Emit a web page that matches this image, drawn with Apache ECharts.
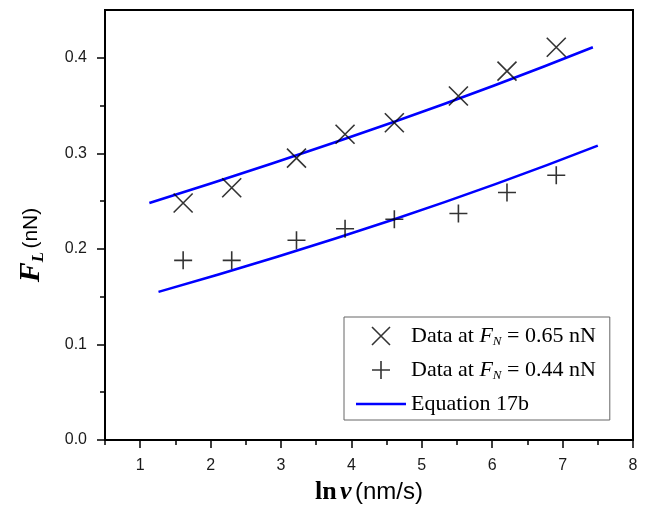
<!DOCTYPE html>
<html>
<head>
<meta charset="utf-8">
<script src="https://cdn.jsdelivr.net/npm/echarts@6/dist/echarts.min.js"></script>
<style>
  html, body { margin: 0; padding: 0; background: #fff; }
  #chart { width: 647px; height: 511px; }
</style>
</head>
<body>
<div id="chart"></div>
<script>
// ln v values of the measurements
let lnV = [1.61, 2.30, 3.22, 3.91, 4.61, 5.52, 6.21, 6.91];
// F_L at F_N = 0.65 nN and 0.44 nN
let fl065 = [0.248, 0.264, 0.295, 0.320, 0.332, 0.360, 0.386, 0.411];
let fl044 = [0.188, 0.188, 0.209, 0.221, 0.231, 0.237, 0.259, 0.277];
// Equation 17b curves
let eqUpperX = [1.13, 4.61, 7.43];
let eqUpperY = [0.248, 0.333, 0.411];
let eqLowerX = [1.26, 4.61, 7.50];
let eqLowerY = [0.155, 0.231, 0.308];
// tick positions / labels
let xTicks = [1, 2, 3, 4, 5, 6, 7, 8];
let xMinor = [0.5, 1.5, 2.5, 3.5, 4.5, 5.5, 6.5, 7.5];
let yTicks = [0, 0.1, 0.2, 0.3, 0.4];
let yMinor = [0.05, 0.15, 0.25, 0.35];

let nameA = 'Data at FN = 0.65 nN';
let nameB = 'Data at FN = 0.44 nN';
let nameEq = 'Equation 17b';

function pairs(xs, ys) {
    return xs.map(function (x, i) { return [x, ys[i]]; });
}

let crossPath = 'path://M0,0L20,20M20,0L0,20';
let plusPath = 'path://M10,0L10,20M0,10L20,10';
// thin bar used as the legend icon of the blue line
let lineIcon = 'path://M0,0L50,0L50,2.5L0,2.5Z';

let myChart = echarts.init(document.getElementById('chart'));
let tickFont = { fontFamily: 'Liberation Sans', fontSize: 16, color: '#1a1a1a' };
let tickLine = { color: '#000', width: 1.5 };

let option = {
    animation: false,
    backgroundColor: '#fff',
    grid: {
        left: 105, right: 14, top: 10, bottom: 71,
        show: true, borderColor: '#000', borderWidth: 2,
        outerBoundsMode: 'none'
    },
    legend: {
        orient: 'vertical',
        left: 344, top: 317,
        padding: [7, 14, 4, 12],
        itemGap: 10,
        itemWidth: 50,
        itemHeight: 18,
        itemStyle: { borderWidth: 1.6 },
        borderColor: '#666',
        borderWidth: 1,
        backgroundColor: '#fff',
        symbolKeepAspect: true,
        data: [nameA, nameB, {
            name: nameEq, icon: lineIcon,
            itemStyle: { color: '#0000ff', borderWidth: 0 }
        }],
        formatter: function (name) {
            if (name.indexOf('FN') >= 0) {
                return name.replace('FN', '{i|F}{s|N}');
            }
            return name;
        },
        textStyle: {
            fontFamily: 'Liberation Serif', fontSize: 22, color: '#000', lineHeight: 24,
            rich: {
                i: { fontFamily: 'Liberation Serif', fontSize: 22, fontStyle: 'italic', lineHeight: 24 },
                s: { fontFamily: 'Liberation Serif', fontSize: 13, fontStyle: 'italic', lineHeight: 12, verticalAlign: 'bottom' }
            }
        }
    },
    xAxis: [{
        // minor ticks
        type: 'value', min: 0.5, max: 8, position: 'bottom',
        axisLine: { show: false },
        axisTick: { customValues: xMinor, length: 5, lineStyle: tickLine },
        axisLabel: { show: false },
        splitLine: { show: false }
    }, {
        type: 'value', min: 0.5, max: 8, position: 'bottom',
        axisLine: { lineStyle: { color: '#000', width: 2 } },
        axisTick: { customValues: xTicks, length: 8, lineStyle: tickLine },
        axisLabel: Object.assign({ customValues: xTicks, margin: 18 }, tickFont),
        splitLine: { show: false },
        name: '{b|ln} {bi|v} {n|(nm/s)}',
        nameLocation: 'middle',
        nameGap: 36,
        nameTextStyle: {
            rich: {
                b: { fontFamily: 'Liberation Serif', fontWeight: 'bold', fontSize: 26, color: '#000' },
                bi: { fontFamily: 'Liberation Serif', fontWeight: 'bold', fontStyle: 'italic', fontSize: 26, color: '#000' },
                n: { fontFamily: 'Liberation Sans', fontSize: 24, color: '#000' }
            }
        }
    }],
    yAxis: [{
        type: 'value', min: 0, max: 0.45, position: 'left',
        axisLine: { show: false },
        axisTick: { customValues: yMinor, length: 5, lineStyle: tickLine },
        axisLabel: { show: false },
        splitLine: { show: false }
    }, {
        type: 'value', min: 0, max: 0.45, position: 'left',
        axisLine: { lineStyle: { color: '#000', width: 2 } },
        axisTick: { customValues: yTicks, length: 8, lineStyle: tickLine },
        axisLabel: Object.assign({
            customValues: yTicks, margin: 18,
            formatter: function (v) { return v.toFixed(1); }
        }, tickFont),
        splitLine: { show: false },
        name: '{f|F}{s|L} {n|(nN)}',
        nameLocation: 'middle',
        nameGap: 58,
        nameTextStyle: {
            padding: [0, 40, 0, 0],
            lineHeight: 32,
            rich: {
                f: { fontFamily: 'Liberation Serif', fontWeight: 'bold', fontStyle: 'italic', fontSize: 30, color: '#000', lineHeight: 32 },
                s: { fontFamily: 'Liberation Serif', fontWeight: 'bold', fontStyle: 'italic', fontSize: 17, color: '#000', lineHeight: 16, verticalAlign: 'bottom' },
                n: { fontFamily: 'Liberation Sans', fontSize: 21, color: '#000', lineHeight: 32 }
            }
        }
    }],
    series: [
        {
            name: nameEq, type: 'line', xAxisIndex: 1, yAxisIndex: 1,
            data: pairs(eqUpperX, eqUpperY), smooth: true, symbol: 'none',
            lineStyle: { color: '#0000ff', width: 2.5 }, itemStyle: { color: '#0000ff' }
        },
        {
            name: nameEq, type: 'line', xAxisIndex: 1, yAxisIndex: 1,
            data: pairs(eqLowerX, eqLowerY), smooth: true, symbol: 'none',
            lineStyle: { color: '#0000ff', width: 2.5 }, itemStyle: { color: '#0000ff' }
        },
        {
            name: nameA, type: 'scatter', xAxisIndex: 1, yAxisIndex: 1,
            data: pairs(lnV, fl065), symbol: crossPath, symbolSize: 19, symbolKeepAspect: true,
            itemStyle: { color: '#000', borderColor: '#000', borderWidth: 1.6 }, z: 3
        },
        {
            name: nameB, type: 'scatter', xAxisIndex: 1, yAxisIndex: 1,
            data: pairs(lnV, fl044), symbol: plusPath, symbolSize: 18, symbolKeepAspect: true,
            itemStyle: { color: '#000', borderColor: '#000', borderWidth: 1.6 }, z: 3
        }
    ]
};
myChart.setOption(option);
</script>
</body>
</html>
